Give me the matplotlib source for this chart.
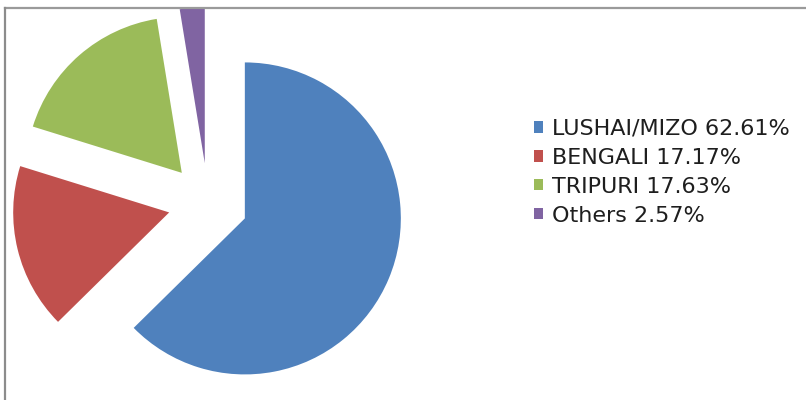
import matplotlib.pyplot as plt
from matplotlib.lines import Line2D
from matplotlib.patches import Patch

# language share
groups = ['LUSHAI/MIZO', 'BENGALI', 'TRIPURI', 'Others']
shares = [62.61, 17.17, 17.63, 2.57]
colours = ['#4F81BD', '#C0504D', '#9BBB59', '#8064A2']

W, H = 806, 400
R = 156.0          # pie radius in pixels
cx, cy = 208, 203  # pie centre (pixels from top-left)
top = 9            # plot area top edge

fig = plt.figure(figsize=(W / 100, H / 100), dpi=100)
fig.patch.set_facecolor('white')

ax = fig.add_axes([0, 0, 1, (H - top) / H])
ax.pie(shares, colors=colours, startangle=90, counterclock=False,
       explode=[0.256] * len(shares), radius=1,
       wedgeprops=dict(linewidth=0))
ax.set_xlim(-cx / R, (W - cx) / R)
ax.set_ylim(-(H - cy) / R, (H - top - (H - cy)) / R)
ax.set_aspect('auto')
ax.axis('off')

# chart area border (top and left edges)
fig.add_artist(Line2D([5 / W, 1], [1 - 8 / H, 1 - 8 / H], transform=fig.transFigure,
                      color='#9a9a9a', lw=1.6))
fig.add_artist(Line2D([5 / W, 5 / W], [0, 1 - 8 / H], transform=fig.transFigure,
                      color='#8c8c8c', lw=1.6))

handles = [Patch(facecolor=c, edgecolor='none') for c in colours]
labels = [f'{g} {s:.2f}%' for g, s in zip(groups, shares)]
fig.legend(handles, labels, loc='upper left', bbox_to_anchor=(534 / W, 1 - 119 / H),
           frameon=False, handlelength=0.4, handleheight=0.4,
           handletextpad=0.4, labelspacing=0.4, borderpad=0, borderaxespad=0,
           prop={'family': 'DejaVu Sans', 'size': 16, 'weight': 'normal'},
           labelcolor='#1e1e1e')

fig.savefig('out.png', dpi=100, facecolor='white')
